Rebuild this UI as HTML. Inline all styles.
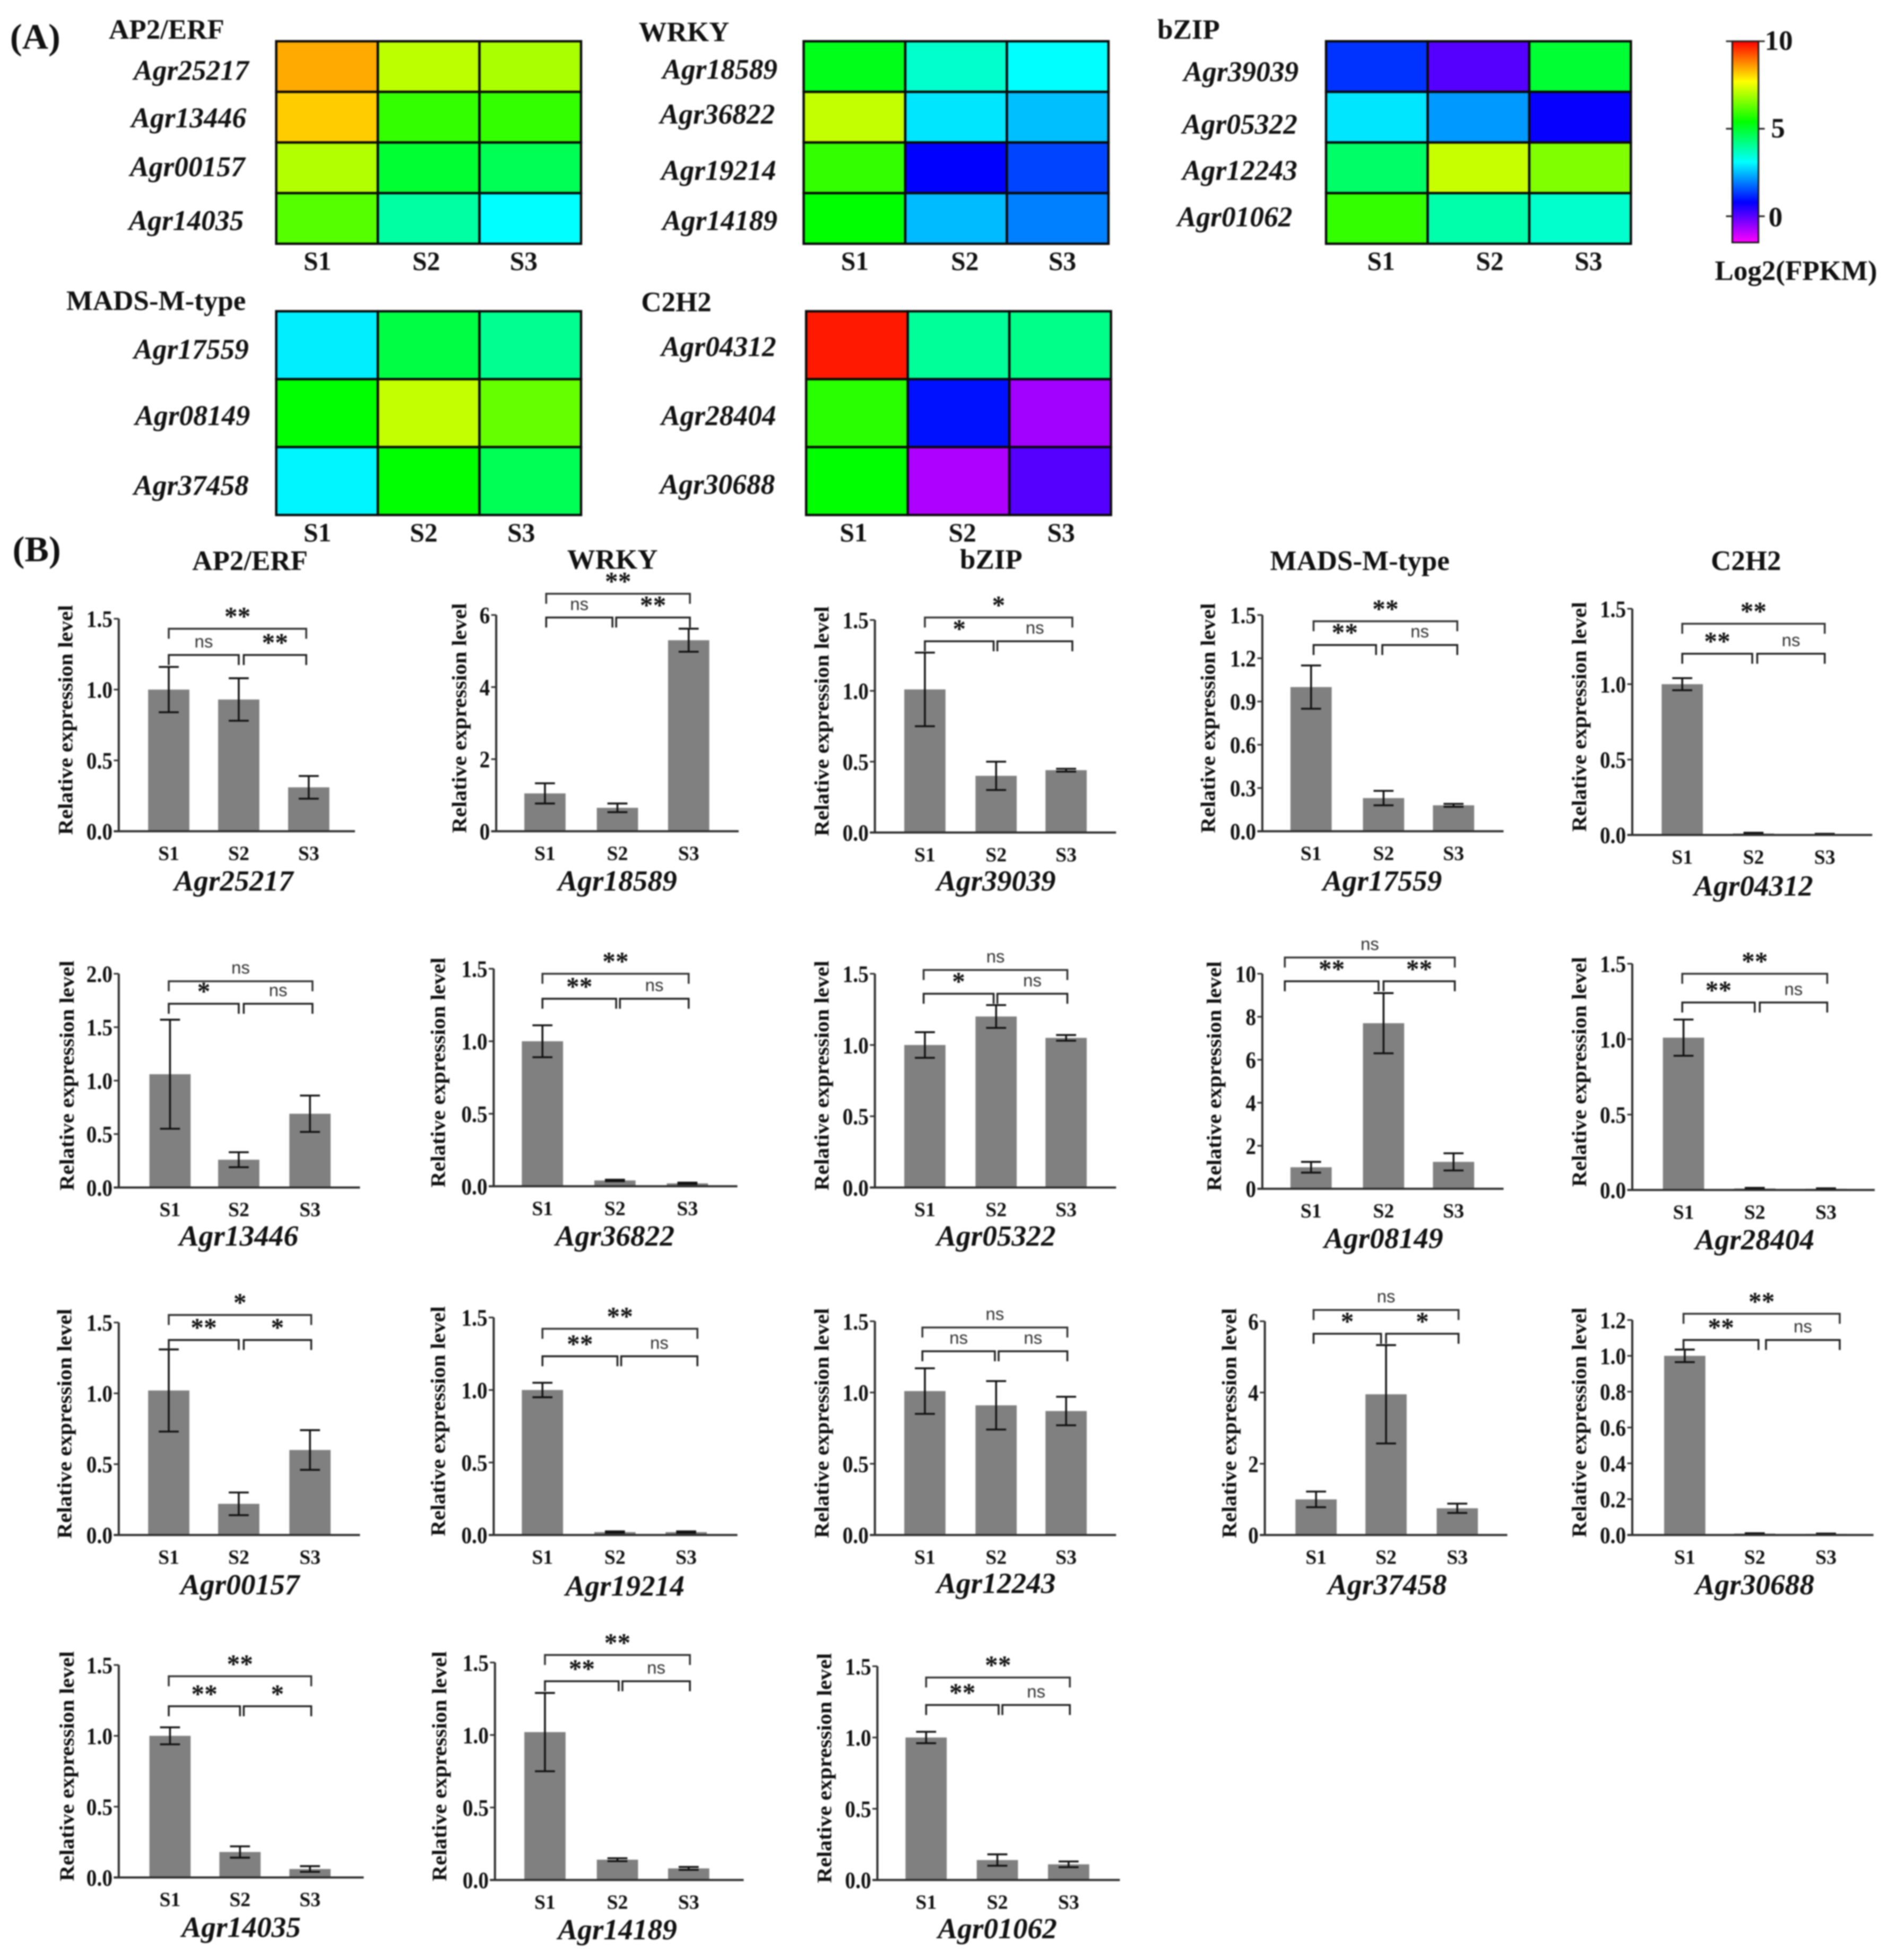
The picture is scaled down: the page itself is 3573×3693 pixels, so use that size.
<!DOCTYPE html>
<html lang="en">
<head>
<meta charset="utf-8">
<title>Expression heatmaps and relative expression bar charts</title>
<style>
html,body{margin:0;padding:0;background:#fff;}
svg{display:block;filter:blur(1.3px);}
text{font-family:"Liberation Serif",serif;font-weight:bold;fill:#111;}
.gene{font-style:italic;font-size:23.5px;}
.hgene{font-style:italic;font-size:22.8px;}
.title{font-size:22.5px;}
.panel{font-size:29px;}
.ytick{font-size:19px;}
.cat{font-size:16px;}
.hcat{font-size:21px;}
.ylab{font-size:16.5px;}
.ns{font-family:"Liberation Sans",sans-serif;font-weight:normal;font-size:14px;fill:#333;}
.star{font-size:21px;}
</style>
</head>
<body>
<svg id="fig" xmlns="http://www.w3.org/2000/svg" width="3573" height="3693" viewBox="0 0 1517 1568">
<defs>
<linearGradient id="rainbow" x1="0" y1="0" x2="0" y2="1">
<stop offset="0" stop-color="#f00"/><stop offset="0.2" stop-color="#ff0"/><stop offset="0.4" stop-color="#0f0"/><stop offset="0.6" stop-color="#0ff"/><stop offset="0.8" stop-color="#00f"/><stop offset="1" stop-color="#f0f"/>
</linearGradient>
</defs>
<rect x="0" y="0" width="1517" height="1568" fill="#fff"/>
<text class="panel" x="8" y="39">(A)</text>
<text class="panel" x="10" y="449">(B)</text>
<text class="title" x="87" y="31">AP2/ERF</text>
<text class="title" x="511" y="33">WRKY</text>
<text class="title" x="926" y="31">bZIP</text>
<text class="title" x="53" y="248">MADS-M-type</text>
<text class="title" x="513" y="249">C2H2</text>
<text class="title" x="200" y="456" text-anchor="middle">AP2/ERF</text>
<text class="title" x="490" y="455" text-anchor="middle">WRKY</text>
<text class="title" x="793" y="455" text-anchor="middle">bZIP</text>
<text class="title" x="1088" y="456" text-anchor="middle">MADS-M-type</text>
<text class="title" x="1397" y="456" text-anchor="middle">C2H2</text>
<g>
<rect x="1386" y="33" width="21" height="161" fill="url(#rainbow)" stroke="#111" stroke-width="1.2"/>
<path d="M1381 33H1412M1381 103H1386M1407 103H1412M1381 173H1386M1407 173H1412" stroke="#222" stroke-width="1.3" fill="none"/>
<text class="title" x="1412" y="40">10</text>
<text class="title" x="1417" y="110">5</text>
<text class="title" x="1415" y="181">0</text>
<text class="title" x="1437" y="224" text-anchor="middle">Log2(FPKM)</text>
</g>
<g id="heatmaps"></g>
<g id="bars"></g>
</svg>
<script>
// ---------- shared categories ----------
const categories = ['S1', 'S2', 'S3'];

// ---------- heatmap data (log2 FPKM) ----------
const heatGroups = ['ap2-erf', 'wrky', 'bzip', 'mads', 'c2h2'];
const heatGenes = [
  ['Agr25217', 'Agr13446', 'Agr00157', 'Agr14035'],
  ['Agr18589', 'Agr36822', 'Agr19214', 'Agr14189'],
  ['Agr39039', 'Agr05322', 'Agr12243', 'Agr01062'],
  ['Agr17559', 'Agr08149', 'Agr37458'],
  ['Agr04312', 'Agr28404', 'Agr30688']
];
const heatValues = [
  [[8.47, 7.09, 6.93], [8.16, 5.86, 5.86], [7.0, 4.94, 4.63], [6.17, 3.94, 3.1]],
  [[5.17, 3.56, 3.1], [7.16, 2.87, 2.52], [5.86, 0.8, 1.41], [5.4, 2.49, 1.95]],
  [[1.26, 0.03, 4.94], [2.87, 2.18, 0.75], [4.48, 7.2, 6.55], [5.86, 3.87, 3.56]],
  [[2.95, 4.79, 4.1], [5.4, 7.16, 6.32], [3.02, 5.4, 4.63]],
  [[9.77, 4.02, 4.17], [5.78, 0.95, -0.66], [5.4, -0.77, 0.03]]
];
// heatmap layout: left, top, bottom, cell width, label right edges + baselines, S label xs/y
const heatBoxes = [
  { x: 221, top: 33, bottom: 195, w: 81.3, lx: [199, 197, 196, 195], ly: [64, 102, 141, 184], sx: [254, 341, 419], sy: 216 },
  { x: 643, top: 33, bottom: 195, w: 81.3, lx: [622, 620, 621, 622], ly: [63, 99, 144, 184], sx: [684, 772, 850], sy: 216 },
  { x: 1061, top: 33, bottom: 195, w: 81.3, lx: [1039, 1038, 1038, 1034], ly: [65, 107, 144, 181], sx: [1105, 1192, 1271], sy: 216 },
  { x: 221, top: 249, bottom: 412, w: 81.3, lx: [199, 200, 199], ly: [287, 340, 396], sx: [254, 339, 417], sy: 433 },
  { x: 645, top: 249, bottom: 412, w: 81.3, lx: [621, 621, 620], ly: [285, 340, 395], sx: [683, 770, 849], sy: 433 }
];

// ---------- bar chart data ----------
const barGenes = ['Agr25217', 'Agr18589', 'Agr39039', 'Agr17559', 'Agr04312',
  'Agr13446', 'Agr36822', 'Agr05322', 'Agr08149', 'Agr28404',
  'Agr00157', 'Agr19214', 'Agr12243', 'Agr37458', 'Agr30688',
  'Agr14035', 'Agr14189', 'Agr01062'];
const barMeans = [
  [1.0, 0.93, 0.31], [1.05, 0.65, 5.3], [1.01, 0.40, 0.44], [1.0, 0.23, 0.18], [1.0, 0.01, 0.005],
  [1.06, 0.26, 0.69], [1.0, 0.04, 0.02], [1.0, 1.2, 1.05], [1.0, 7.7, 1.25], [1.01, 0.01, 0.008],
  [1.02, 0.22, 0.6], [1.0, 0.02, 0.02], [1.01, 0.91, 0.87], [1.0, 3.95, 0.75], [1.0, 0.008, 0.006],
  [1.0, 0.18, 0.06], [1.02, 0.14, 0.08], [1.0, 0.14, 0.11]
];
const barErrors = [
  [0.16, 0.15, 0.08], [0.28, 0.12, 0.32], [0.26, 0.1, 0.01], [0.15, 0.05, 0.01], [0.04, 0.005, 0.003],
  [0.51, 0.07, 0.17], [0.11, 0.005, 0.005], [0.09, 0.08, 0.02], [0.25, 1.4, 0.4], [0.12, 0.004, 0.003],
  [0.29, 0.08, 0.14], [0.05, 0.005, 0.005], [0.16, 0.17, 0.1], [0.22, 1.38, 0.13], [0.035, 0.002, 0.002],
  [0.06, 0.04, 0.02], [0.27, 0.01, 0.01], [0.04, 0.04, 0.02]
];
const ticks15 = ['0.0', '0.5', '1.0', '1.5'];
const ticks6 = ['0', '2', '4', '6'];
const ticks15fine = ['0.0', '0.3', '0.6', '0.9', '1.2', '1.5'];
const ticks2 = ['0.0', '0.5', '1.0', '1.5', '2.0'];
const ticks10 = ['0', '2', '4', '6', '8', '10'];
const ticks12 = ['0.0', '0.2', '0.4', '0.6', '0.8', '1.0', '1.2'];
const barTicks = [
  ticks15, ticks6, ticks15, ticks15fine, ticks15,
  ticks2, ticks15, ticks15, ticks10, ticks15,
  ticks15, ticks15, ticks15, ticks6, ticks12,
  ticks15, ticks15, ticks15
];
const barSignif = [
  ['**', 'ns', '**'], ['**', 'ns', '**'], ['*', '*', 'ns'], ['**', '**', 'ns'], ['**', '**', 'ns'],
  ['ns', '*', 'ns'], ['**', '**', 'ns'], ['ns', '*', 'ns'], ['ns', '**', '**'], ['**', '**', 'ns'],
  ['*', '**', '*'], ['**', '**', 'ns'], ['ns', 'ns', 'ns'], ['ns', '*', '*'], ['**', '**', 'ns'],
  ['**', '**', '*'], ['**', '**', 'ns'], ['**', '**', 'ns']
];

// ---------- bar chart layout (not data) ----------
// ax: y-axis x, y0: baseline, top: y of top tick, end: x-axis end, lab: y-title x,
// c: bar centres, gx/gy: gene label, br: [left, mid-left, mid-right, right, topY, lowY]
const barLayout = [
  { ax: 95, y0: 665, top: 495, end: 284, lab: 53, c: [135, 191, 247], gx: 187, gy: 705, br: [135, 191, 195, 245, 503, 524] },
  { ax: 397, y0: 665, top: 492, end: 591, lab: 368, c: [436, 494, 551], gx: 494, gy: 705, br: [437, 490, 493, 552, 475, 494] },
  { ax: 700, y0: 666, top: 496, end: 893, lab: 658, c: [740, 797, 853], gx: 797, gy: 705, br: [740, 795, 798, 858, 494, 513] },
  { ax: 1010, y0: 665, top: 492, end: 1203, lab: 967, c: [1049, 1107, 1163], gx: 1106, gy: 705, br: [1051, 1101, 1106, 1166, 497, 516] },
  { ax: 1306, y0: 668, top: 487, end: 1498, lab: 1264, c: [1346, 1403, 1460], gx: 1403, gy: 709, br: [1346, 1402, 1406, 1460, 499, 523] },
  { ax: 95, y0: 950, top: 779, end: 288, lab: 54, c: [136, 191, 248], gx: 191, gy: 989, br: [135, 191, 195, 250, 785, 803] },
  { ax: 395, y0: 949, top: 775, end: 590, lab: 351, c: [434, 492, 550], gx: 492, gy: 989, br: [434, 493, 496, 551, 779, 799] },
  { ax: 700, y0: 950, top: 779, end: 893, lab: 658, c: [740, 797, 853], gx: 797, gy: 989, br: [739, 795, 798, 854, 776, 795] },
  { ax: 1010, y0: 951, top: 779, end: 1203, lab: 972, c: [1049, 1107, 1163], gx: 1107, gy: 991, br: [1028, 1103, 1107, 1164, 766, 785] },
  { ax: 1306, y0: 952, top: 771, end: 1500, lab: 1264, c: [1347, 1404, 1461], gx: 1404, gy: 992, br: [1346, 1404, 1408, 1462, 779, 802] },
  { ax: 95, y0: 1228, top: 1058, end: 288, lab: 52, c: [135, 191, 248], gx: 192, gy: 1268, br: [135, 191, 195, 249, 1052, 1072] },
  { ax: 395, y0: 1228, top: 1054, end: 590, lab: 351, c: [434, 492, 549], gx: 500, gy: 1269, br: [434, 494, 497, 558, 1063, 1085] },
  { ax: 700, y0: 1228, top: 1057, end: 893, lab: 658, c: [740, 797, 853], gx: 797, gy: 1267, br: [738, 796, 799, 854, 1062, 1081] },
  { ax: 1012, y0: 1228, top: 1057, end: 1206, lab: 984, c: [1053, 1109, 1166], gx: 1110, gy: 1268, br: [1051, 1105, 1109, 1167, 1048, 1067] },
  { ax: 1306, y0: 1228, top: 1056, end: 1499, lab: 1264, c: [1348, 1404, 1461], gx: 1404, gy: 1268, br: [1347, 1407, 1413, 1472, 1051, 1072] },
  { ax: 95, y0: 1502, top: 1332, end: 291, lab: 54, c: [136, 192, 248], gx: 193, gy: 1542, br: [135, 192, 195, 249, 1341, 1365] },
  { ax: 396, y0: 1504, top: 1330, end: 595, lab: 352, c: [436, 494, 551], gx: 494, gy: 1544, br: [436, 495, 498, 552, 1324, 1345] },
  { ax: 702, y0: 1504, top: 1333, end: 896, lab: 660, c: [741, 798, 855], gx: 798, gy: 1543, br: [741, 799, 802, 856, 1342, 1364] }
];

const NS = 'http://www.w3.org/2000/svg';
function make(parent, tag, attrs, txt) {
  const el = document.createElementNS(NS, tag);
  for (const k in attrs) el.setAttribute(k, attrs[k]);
  if (txt !== undefined) el.textContent = txt;
  parent.appendChild(el);
  return el;
}
// colour axis: log2 value -> hue on the colour scale
function heatColor(v) {
  const hue = (10 - v) / 2.3 * 60;
  return 'hsl(' + hue + ',100%,50%)';
}

// ---------- draw heatmaps ----------
const heatRoot = document.getElementById('heatmaps');
heatValues.forEach(function (rows, h) {
  const box = heatBoxes[h];
  const rowH = (box.bottom - box.top) / rows.length;
  const g = make(heatRoot, 'g', {});
  
  
  rows.forEach(function (vals, r) {
    vals.forEach(function (v, c) {
      const cell = make(g, 'rect', {
        x: box.x + c * box.w, y: box.top + r * rowH, width: box.w, height: rowH,
        fill: heatColor(v), stroke: '#0a0a0a', 'stroke-width': 1.9
      });
      
      
    });
    const lab = make(g, 'text', {
      x: box.lx[r], y: box.ly[r], 'text-anchor': 'end', 'class': 'hgene',
      textLength: 92, lengthAdjust: 'spacingAndGlyphs'
    }, heatGenes[h][r]);
    
    
  });
  categories.forEach(function (cat, c) {
    const lab = make(g, 'text', { x: box.sx[c], y: box.sy, 'text-anchor': 'middle', 'class': 'hcat' }, cat);
    
    
  });
});

// ---------- draw bar charts ----------
const barRoot = document.getElementById('bars');
const AXIS = '#2e2e2e';
barGenes.forEach(function (gene, p) {
  const L = barLayout[p];
  const tickLabels = barTicks[p];
  const maxV = parseFloat(tickLabels[tickLabels.length - 1]);
  const yScale = function (v) { return L.y0 - (v / maxV) * (L.y0 - L.top); };
  const g = make(barRoot, 'g', {});
  
  

  barMeans[p].forEach(function (v, i) {
    const bar = make(g, 'rect', { x: L.c[i] - 16.5, y: yScale(v), width: 33, height: L.y0 - yScale(v), fill: '#808080' });
    
    
    const e = barErrors[p][i];
    const hi = yScale(v + e), lo = yScale(Math.max(0, v - e));
    const err = make(g, 'path', {
      d: 'M' + L.c[i] + ' ' + hi + 'V' + lo + 'M' + (L.c[i] - 8) + ' ' + hi + 'H' + (L.c[i] + 8) + 'M' + (L.c[i] - 8) + ' ' + lo + 'H' + (L.c[i] + 8),
      stroke: '#111', 'stroke-width': 1.5, fill: 'none'
    });
    
    
    const cat = make(g, 'text', { x: L.c[i], y: L.y0 + 23, 'text-anchor': 'middle', 'class': 'cat' }, categories[i]);
    
    
  });

  const yAxis = make(g, 'line', { x1: L.ax, x2: L.ax, y1: L.top, y2: L.y0, stroke: AXIS, 'stroke-width': 1.7 });
  
  
  const xAxis = make(g, 'line', { x1: L.ax - 4, x2: L.end, y1: L.y0, y2: L.y0, stroke: AXIS, 'stroke-width': 1.7 });
  
  

  tickLabels.forEach(function (t) {
    const y = yScale(parseFloat(t));
    const tick = make(g, 'line', { x1: L.ax - 4, x2: L.ax, y1: y, y2: y, stroke: AXIS, 'stroke-width': 1.3 });
    
    
    const natural = (t.replace('.', '').length * 0.5 + (t.indexOf('.') >= 0 ? 0.25 : 0)) * 19;
    const lab = make(g, 'text', {
      x: L.ax - 5, y: y + 6.5, 'text-anchor': 'end', 'class': 'ytick',
      textLength: natural * 0.88, lengthAdjust: 'spacingAndGlyphs'
    }, t);
    
    
  });

  const cy = (L.y0 + L.top) / 2 - 4;
  const yTitle = make(g, 'text', {
    x: L.lab, y: cy, 'text-anchor': 'middle', 'class': 'ylab',
    textLength: 184, lengthAdjust: 'spacingAndGlyphs',
    transform: 'rotate(-90 ' + L.lab + ' ' + cy + ')', dy: 5
  }, 'Relative expression level');
  
  

  const gl = make(g, 'text', { x: L.gx, y: L.gy + 7.5, 'text-anchor': 'middle', 'class': 'gene' }, gene);
  
  

  // significance brackets
  const b = L.br;
  const spans = [[b[0], b[3], b[4]], [b[0], b[1], b[5]], [b[2], b[3], b[5]]];
  spans.forEach(function (s, i) {
    const br = make(g, 'path', {
      d: 'M' + s[0] + ' ' + (s[2] + 8) + 'V' + s[2] + 'H' + s[1] + 'V' + (s[2] + 8),
      stroke: i === 0 ? '#333' : '#222', 'stroke-width': 1.5, fill: 'none'
    });
    
    
    const label = barSignif[p][i];
    const isNs = label === 'ns';
    const sig = make(g, 'text', {
      x: (s[0] + s[1]) / 2, y: s[2] - (isNs ? 6 : 3), 'text-anchor': 'middle', 'class': isNs ? 'ns' : 'star'
    }, label);
    
    
  });
});
</script>
</body>
</html>
